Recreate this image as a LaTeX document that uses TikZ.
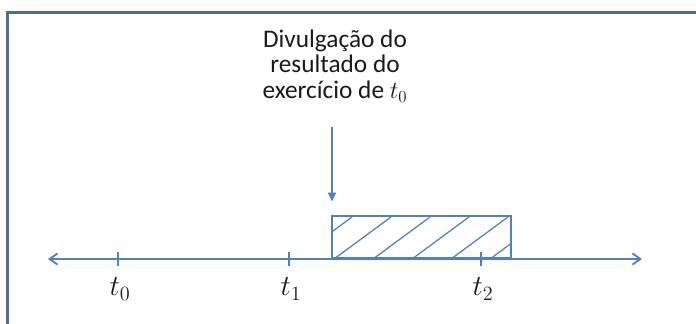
\documentclass[tikz,border=0pt]{standalone}
\usepackage{fontspec}
\setmainfont{Carlito}
\usepackage{tikz}
\usetikzlibrary{arrows.meta,positioning}

\definecolor{lineblue}{HTML}{4F81BD}
\definecolor{frameblue}{HTML}{4E6D8F}
\definecolor{textdark}{HTML}{1A1A1A}

\begin{document}
\begin{tikzpicture}[
    x=0.025cm, y=-0.025cm,
    frame/.style={draw=frameblue, line width=1.5pt},
    axis/.style={lineblue, line width=1.3pt, {Straight Barb[length=2mm, width=2.8mm]}-{Straight Barb[length=2mm, width=2.8mm]}},
    tick/.style={lineblue, line width=1.3pt},
    tlabel/.style={text=textdark, font=\fontsize{22}{24}\selectfont},
    window/.style={draw=lineblue, line width=1.1pt, minimum width=4.475cm, minimum height=1.05cm, inner sep=0pt, anchor=south west},
    hatch/.style={lineblue, line width=0.9pt},
    note/.style={align=center, text=textdark, font=\fontsize{18}{18.4}\selectfont},
    pointer/.style={-{Triangle[length=2.2mm, width=2mm]}, lineblue, line width=1pt}
]
\clip (0,0) rectangle (696,323);
\draw[frame] (7.5,340) -- (7.5,12.5) -- (710,12.5);

% time axis
\coordinate (left) at (48,259);
\coordinate (right) at (642,259);
\draw[axis] (left) -- (right);
\foreach \x/\i in {118/0, 289/1, 481/2} {
    \draw[tick] (\x,252) -- (\x,266);
    \node[tlabel] (t\i) at (\x+2,289) {$t_{\i}$};
}

% hatched window
\node[window] (win) at (331,259) {};
\begin{scope}
    \clip (win.south west) rectangle (win.north east);
    \foreach \x in {295,334,...,490}
        \draw[hatch] (\x,259) -- ++(57,-42);
\end{scope}
\node[window] at (331,259) {};

\node[note] (disc) at (335,66) {Divulgação do\\resultado do\\exercício de $t_0$};
\coordinate (tail) at (332,127);
\draw[pointer, shorten >=0.35cm] (tail) -- (tail |- win.north);
\end{tikzpicture}
\end{document}
